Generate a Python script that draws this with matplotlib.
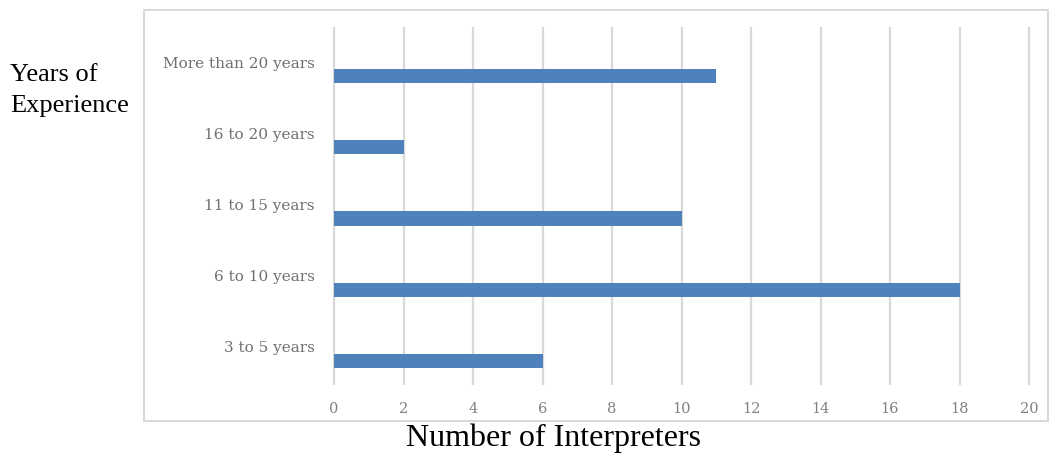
import matplotlib.pyplot as plt
from matplotlib.patches import Rectangle

categories = ["3 to 5 years", "6 to 10 years", "11 to 15 years", "16 to 20 years", "More than 20 years"]
interpreters = [6, 18, 10, 2, 11]
x_ticks = list(range(0, 21, 2))

W, H = 1052, 454
fig = plt.figure(figsize=(W / 100, H / 100), dpi=100)

# light outer frame around the chart area
fig.patches.append(Rectangle((144 / W, 1 - 421 / H), (1048 - 144) / W, (421 - 10) / H,
                             transform=fig.transFigure, fill=False,
                             edgecolor="#d9d9d9", linewidth=1.5))

ax = fig.add_axes([334 / W, 1 - 384 / H, (1029 - 334) / W, (384 - 28) / H])
ypos = list(range(len(categories)))
ax.barh([y - 0.175 for y in ypos], interpreters, height=0.2, color="#4f81bd", zorder=3)

ax.set_xlim(0, 20)
ax.set_ylim(-0.5, len(categories) - 0.5)
ax.set_xticks(x_ticks)
ax.set_xticklabels([str(t) for t in x_ticks], family="DejaVu Serif", fontsize=10.5, color="#808080")
ax.set_yticks([y + 0.02 for y in ypos])
ax.set_yticklabels(categories, family="DejaVu Serif", fontsize=11, color="#707070")
ax.tick_params(axis="both", length=0)
ax.tick_params(axis="x", pad=13)
ax.tick_params(axis="y", pad=14)
ax.grid(axis="x", color="#d9d9d9", linewidth=1.6, zorder=0)
for line in ax.get_xgridlines():
    line.set_clip_on(False)
for s in ax.spines.values():
    s.set_visible(False)

fig.text(10 / W, 1 - 75 / H, "Years of", family="Liberation Serif", fontsize=19, va="center")
fig.text(10 / W, 1 - 106 / H, "Experience", family="Liberation Serif", fontsize=19, va="center")
fig.text(553 / W, 1 - 438 / H, "Number of Interpreters", family="Liberation Serif",
         fontsize=23, ha="center", va="center")

fig.savefig("out.png", dpi=100)
